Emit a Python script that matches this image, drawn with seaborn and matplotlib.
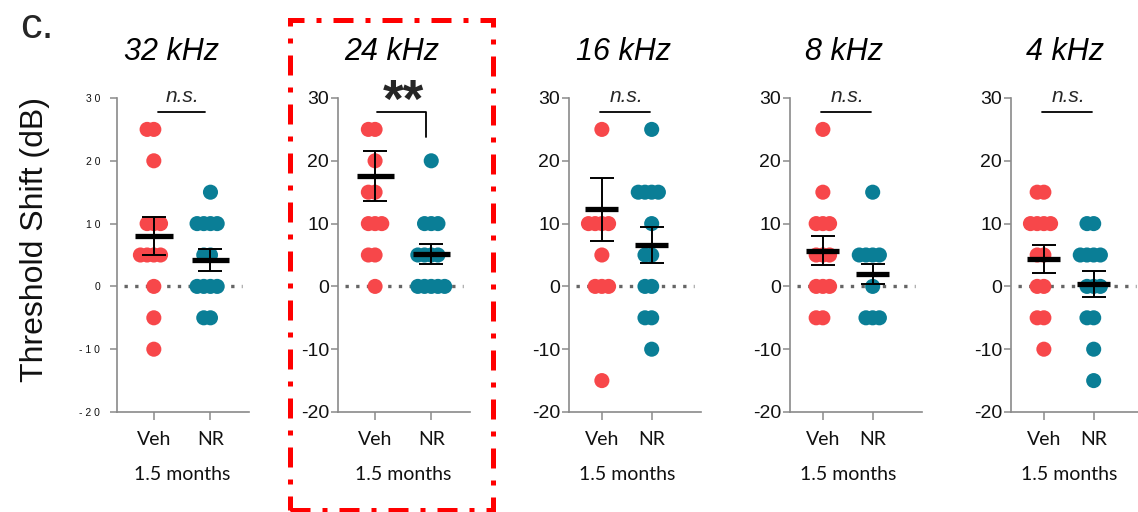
"""Threshold shift per frequency: Veh vs NR dot plots with mean +/- SEM."""
import matplotlib.pyplot as plt
import matplotlib.patches as mpatches
import matplotlib.transforms as mtransforms
import pandas as pd
import seaborn as sns

freqs = ["32 kHz", "24 kHz", "16 kHz", "8 kHz", "4 kHz"]
groups = ["Veh", "NR"]

veh_32 = [25, 25, 20, 10, 10, 10, 5, 5, 5, 5, 0, -5, -10]
nr_32 = [15, 10, 10, 10, 10, 5, 5, 0, 0, 0, 0, -5, -5]
veh_24 = [25, 25, 20, 15, 15, 10, 10, 10, 5, 5, 0]
nr_24 = [20, 10, 10, 10, 5, 5, 5, 5, 0, 0, 0, 0, 0]
veh_16 = [25, 10, 10, 10, 10, 5, 0, 0, 0, -15]
nr_16 = [25, 15, 15, 15, 15, 10, 5, 5, 0, 0, -5, -5, -10]
veh_8 = [25, 15, 10, 10, 10, 5, 5, 5, 0, 0, 0, -5, -5]
nr_8 = [15, 5, 5, 5, 5, 0, -5, -5, -5]
veh_4 = [15, 15, 10, 10, 10, 10, 5, 5, 0, 0, -5, -5, -10]
nr_4 = [10, 10, 5, 5, 5, 5, 0, 0, 0, -5, -5, -10, -15]

veh_values = [veh_32, veh_24, veh_16, veh_8, veh_4]
nr_values = [nr_32, nr_24, nr_16, nr_8, nr_4]

# mean and SEM as printed in the figure
mean_veh = [8.0, 17.6, 12.3, 5.7, 4.4]
sem_veh = [3.0, 4.0, 5.0, 2.3, 2.2]
mean_nr = [4.2, 5.2, 6.6, 2.0, 0.4]
sem_nr = [1.8, 1.6, 2.8, 1.6, 2.1]

significance = ["n.s.", "**", "n.s.", "n.s.", "n.s."]
yticks = [-20, -10, 0, 10, 20, 30]

rows = []
for f, v, n in zip(freqs, veh_values, nr_values):
    rows += [{"freq": f, "group": "Veh", "shift": x} for x in v]
    rows += [{"freq": f, "group": "NR", "shift": x} for x in n]
df = pd.DataFrame(rows)

sns.set_style("ticks")
plt.rcParams["font.family"] = ["Liberation Sans", "DejaVu Sans"]

palette = {"Veh": "#F7474A", "NR": "#0A7E96"}
W, H = 1138, 512
fig = plt.figure(figsize=(W / 100, H / 100), dpi=100)

lefts = [117, 338, 569, 790, 1011]
xlims = [(-0.65, 1.68), (-0.66, 1.69), (-0.66, 1.99), (-0.66, 1.99), (-0.66, 1.99)]
axes = []
for i, f in enumerate(freqs):
    ax = fig.add_axes([lefts[i] / W, 1 - 412 / H, 132 / W, 314 / H])
    axes.append(ax)
    sub = df[df["freq"] == f]
    sns.swarmplot(
        data=sub, x="group", y="shift", hue="group", order=groups,
        hue_order=groups, palette=palette, size=4.6, legend=False, ax=ax,
    )
    ax.set_xlim(*xlims[i])
    ax.set_ylim(-20, 30)

    # zero reference line
    ax.axhline(0, xmin=0.05, xmax=0.95, color="#666666", lw=2.4,
               linestyle=(0, (1, 2.2)), zorder=0)

    # mean and SEM
    ax.errorbar([0, 1], [mean_veh[i], mean_nr[i]], yerr=[sem_veh[i], sem_nr[i]],
                fmt="none", ecolor="black", elinewidth=1.4, capsize=8.5,
                capthick=1.4, zorder=5)
    ax.errorbar([0, 1], [mean_veh[i], mean_nr[i]], xerr=0.33, fmt="none",
                ecolor="black", elinewidth=3.8, capsize=0, zorder=6)

    # axes styling
    for side in ["top", "right"]:
        ax.spines[side].set_visible(False)
    for side in ["left", "bottom"]:
        ax.spines[side].set_color("#8a8a8a")
        ax.spines[side].set_linewidth(1.2)
    ax.set_xlabel("")
    ax.set_ylabel("")
    ax.set_yticks(yticks)
    if i == 0:
        ax.set_yticklabels([" ".join(str(t)) for t in yticks], fontsize=7.5)
        ax.tick_params(axis="y", pad=7)
    else:
        ax.set_yticklabels([str(t) for t in yticks], fontsize=14)
        ax.tick_params(axis="y", pad=1.5)
    ax.tick_params(axis="y", length=5, width=1.1, color="#8a8a8a",
                   labelcolor="#111111")
    ax.tick_params(axis="x", length=6, width=1.1, color="#8a8a8a", pad=8,
                   labelcolor="#111111")
    ax.set_xticks([0, 1])
    ax.set_xticklabels(groups, fontsize=14, family=["Lato", "DejaVu Sans"])

    blend = mtransforms.blended_transform_factory(ax.transData, ax.transAxes)
    ax.text(0.5, -0.2, "1.5 months", transform=blend, ha="center", va="center",
            fontsize=14, family=["Lato", "DejaVu Sans"], color="#111111")
    ax.text(0.41, 1.146, f, transform=ax.transAxes, ha="center", va="center",
            fontsize=22, style="italic", color="black")

    # significance annotation
    if significance[i] == "**":
        ax.plot([0.04, 0.91, 0.91], [27.8, 27.8, 23.8], color="black", lw=1.3,
                clip_on=False)
        ax.text(0.51, 27.0, "**", ha="center", va="baseline", fontsize=38,
                fontweight="bold", clip_on=False)
    else:
        x0 = 0.07 if i == 0 else -0.03
        x1 = 0.9 if i == 0 else 0.97
        ax.plot([x0, x1], [27.8, 27.8], color="black", lw=1.3, clip_on=False)
        ax.text(0.5, 30.3, significance[i], ha="center", va="center",
                fontsize=15, style="italic", clip_on=False)

fig.text(35 / W, 1 - 240 / H, "Threshold Shift (dB)", rotation=90,
         ha="center", va="center", fontsize=23, color="#111111")
fig.text(20 / W, 1 - 38 / H, "c.", ha="left", va="baseline", fontsize=31)

# highlight box around the 24 kHz panel
box = mpatches.Rectangle(
    (290 / W, 2 / H), (493 - 290) / W, (510 - 20) / H, transform=fig.transFigure,
    fill=False, edgecolor="#FF0000", lw=3.6, linestyle=(0, (4, 2.4, 1, 2.4)),
    clip_on=False,
)
fig.add_artist(box)

# lay out the swarms with small dots, then draw them at full size
fig.canvas.draw()
for ax in axes:
    for coll in ax.collections:
        if "draw" in vars(coll):
            del coll.draw
            coll.set_sizes([118])
            coll.set_zorder(3)

fig.savefig("out.png", dpi=100)
